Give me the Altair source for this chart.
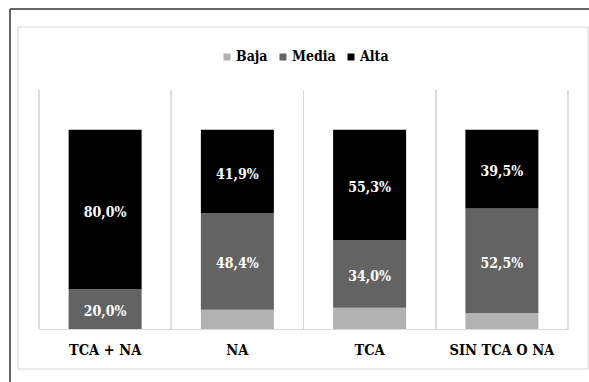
import altair as alt
import pandas as pd

# Percentage of each level (Baja / Media / Alta) per group
categories = ["TCA + NA", "NA", "TCA", "SIN TCA O NA"]
levels = ["Baja", "Media", "Alta"]
baja = [0.0, 9.7, 10.7, 8.0]
media = [20.0, 48.4, 34.0, 52.5]
alta = [80.0, 41.9, 55.3, 39.5]
colors = ["#b2b2b2", "#636363", "#000000"]

rows = []
for i, grupo in enumerate(categories):
    for k, (nivel, vals) in enumerate(zip(levels, [baja, media, alta])):
        rows.append({"grupo": grupo, "nivel": nivel, "orden": k, "pct": vals[i]})
df = pd.DataFrame(rows)

W, H = 529, 239
FONT = "DejaVu Serif Condensed"
GRID = "#d9d9d9"

x_axis = alt.Axis(
    title=None, labelAngle=0, ticks=False, grid=False,
    domain=True, domainColor=GRID, domainWidth=1,
    labelPadding=14, labelFont=FONT, labelFontSize=14.5,
    labelFontWeight="bold", labelColor="#000000",
)
x_scale = alt.Scale(paddingInner=0, paddingOuter=0)


def xenc(**kw):
    return alt.X("grupo:N", sort=categories, scale=x_scale, axis=x_axis, **kw)


y_scale = alt.Scale(domain=[0, 120])

stacked = alt.Chart(df).transform_stack(
    stack="pct", groupby=["grupo"], as_=["y0", "y1"],
    sort=[alt.SortField("orden", order="ascending")],
).transform_calculate(
    mid="(datum.y0 + datum.y1) / 2",
    etiqueta="replace(format(datum.pct, '.1f'), '.', ',') + '%'",
)

bars = stacked.mark_bar(size=73).encode(
    x=xenc(),
    y=alt.Y("y0:Q", scale=y_scale, axis=None),
    y2="y1:Q",
    color=alt.Color(
        "nivel:N",
        scale=alt.Scale(domain=levels, range=colors),
        legend=alt.Legend(
            title=None, orient="none", legendX=181, legendY=-40,
            direction="horizontal", symbolType="square", symbolSize=49,
            symbolStrokeWidth=0, labelFont=FONT, labelFontSize=14,
            labelFontWeight="bold", labelColor="#000000",
            columnPadding=8, labelOffset=2,
        ),
    ),
)

labels = stacked.transform_filter("datum.nivel != 'Baja'").mark_text(
    font=FONT, fontSize=14, fontWeight="bold", color="white",
    baseline="middle", dy=3,
).encode(
    x=xenc(),
    y=alt.Y("mid:Q", scale=y_scale, axis=None),
    text="etiqueta:N",
)

# vertical separators at the band edges
sep_left = alt.Chart(df).mark_rule(color=GRID, strokeWidth=1).encode(x=xenc(bandPosition=0))
sep_right = alt.Chart(df).mark_rule(color=GRID, strokeWidth=1).encode(x=xenc(bandPosition=1))

# chart frame decorations
deco = alt.Data(values=[{}])
inner_box = alt.Chart(deco).mark_rect(fill="transparent", stroke=GRID, strokeWidth=1.2).encode(
    x=alt.value(-21), x2=alt.value(549), y=alt.value(-63), y2=alt.value(279)
)
outer_v = alt.Chart(deco).mark_rule(color="#333333", strokeWidth=1.5).encode(
    x=alt.value(-29), y=alt.value(-81), y2=alt.value(292)
)
outer_h = alt.Chart(deco).mark_rule(color="#333333", strokeWidth=1.5).encode(
    x=alt.value(-29), x2=alt.value(550), y=alt.value(-81)
)

chart = alt.layer(
    inner_box, outer_v, outer_h, sep_left, sep_right, bars, labels
).properties(
    width=W, height=H,
    autosize=alt.AutoSizeParams(type="none"),
    padding={"left": 39, "top": 90, "right": 21, "bottom": 53},
    background="white",
).configure_view(stroke="transparent")

chart.save("out.html", embed_options={"renderer": "svg", "actions": False})
